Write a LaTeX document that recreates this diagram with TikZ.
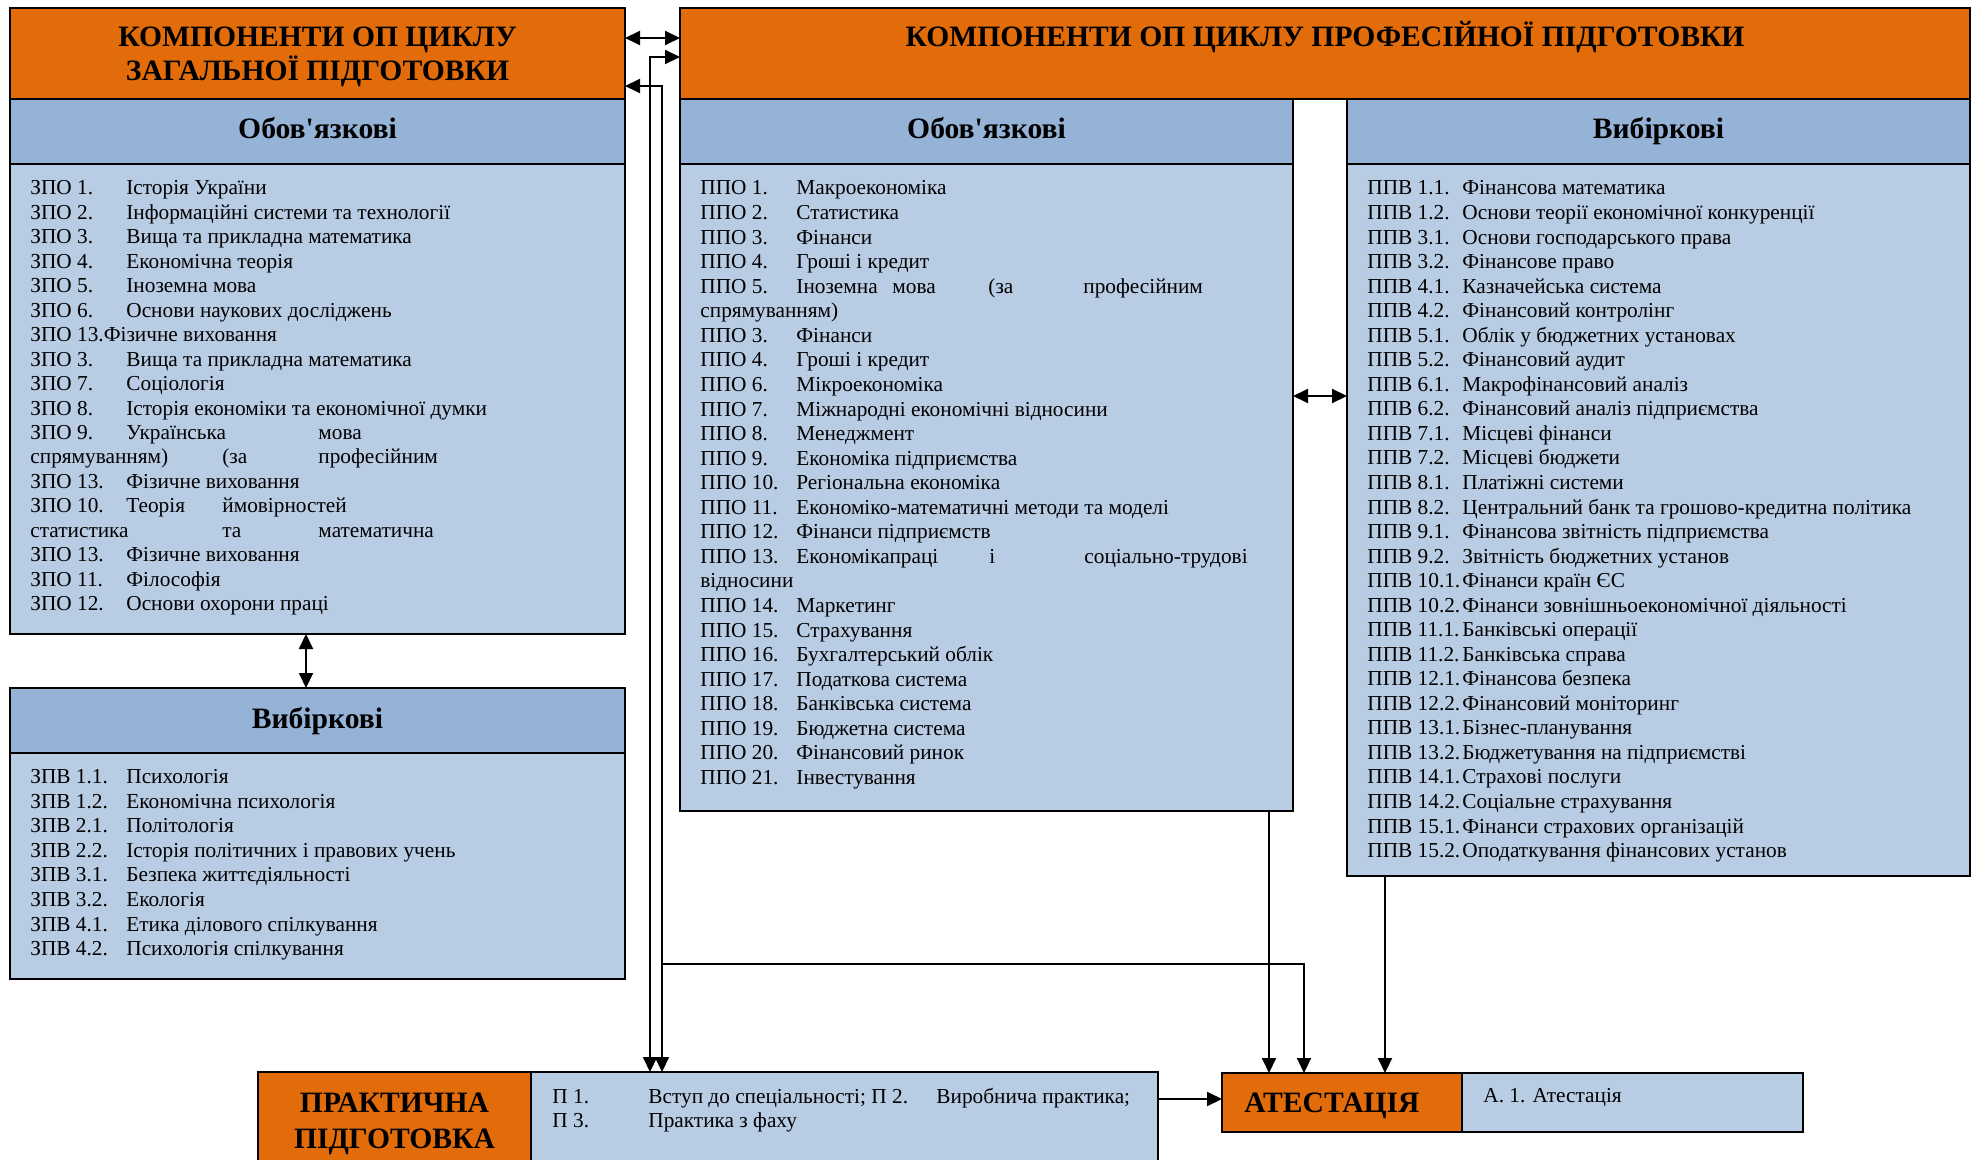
\documentclass[tikz,border=0pt]{standalone}
\usepackage{fontspec}
\setmainfont{Liberation Serif}[Ligatures=TeXOff]
\usetikzlibrary{arrows.meta}
\definecolor{orng}{HTML}{E36C0A}
\definecolor{hdr}{HTML}{95B3D7}
\definecolor{cnt}{HTML}{B8CCE4}
\newcommand\mkbox[6]{\node[bx,#2,minimum width={(#5-(#3))*0.5pt},minimum height={(#6-(#4))*0.5pt}] (#1) at (#3,#4) {};}
\begin{document}
\begin{tikzpicture}[x=0.5pt,y=-0.5pt,
  bx/.style={draw=black, line width=1pt, inner sep=0pt, outer sep=0pt, anchor=north west},
  ttl/.style={anchor=base, inner sep=0pt, font=\fontsize{14.8}{17}\selectfont\bfseries},
  txt/.style={anchor=base west, inner sep=0pt, font=\fontsize{10.65}{12.6}\selectfont},
  arr/.style={line width=1pt, -{Triangle[length=7.5pt,width=7pt]}},
  darr/.style={line width=1pt, {Triangle[length=7.5pt,width=7pt]}-{Triangle[length=7.5pt,width=7pt]}}]
\useasboundingbox (0,0) rectangle (1975,1160);
% boxes
\mkbox{gen}{fill=orng}{10}{8}{625}{99}
\mkbox{genh}{fill=hdr}{10}{99}{625}{164}
\mkbox{genc}{fill=cnt}{10}{164}{625}{634}
\mkbox{vybh}{fill=hdr}{10}{688}{625}{753}
\mkbox{vybc}{fill=cnt}{10}{753}{625}{979}
\mkbox{prof}{fill=orng}{680}{8}{1970}{99}
\mkbox{oblh}{fill=hdr}{680}{99}{1293}{164}
\mkbox{oblc}{fill=cnt}{680}{164}{1293}{811}
\mkbox{ppvh}{fill=hdr}{1347}{99}{1970}{164}
\mkbox{ppvc}{fill=cnt}{1347}{164}{1970}{876}
\mkbox{prak}{fill=orng}{258}{1072}{531}{1180}
\mkbox{prakc}{fill=cnt}{531}{1072}{1158}{1180}
\mkbox{att}{fill=orng}{1222}{1073}{1462}{1132}
\mkbox{attc}{fill=cnt}{1462}{1073}{1803}{1132}
% titles
\node[ttl] (t1) at (317.5,47) {КОМПОНЕНТИ ОП ЦИКЛУ};
\node[ttl] (t2) at (317.5,81) {ЗАГАЛЬНОЇ ПІДГОТОВКИ};
\node[ttl] (t3) at (1325,47) {КОМПОНЕНТИ ОП ЦИКЛУ ПРОФЕСІЙНОЇ ПІДГОТОВКИ};
\node[ttl] (h1) at (317.5,139) {Обов'язкові};
\node[ttl] (h2) at (986.5,139) {Обов'язкові};
\node[ttl] (h3) at (1658.5,139) {Вибіркові};
\node[ttl] (h4) at (317.5,728) {Вибіркові};
\node[ttl] (p1) at (394.5,1112) {ПРАКТИЧНА};
\node[ttl] (p2) at (394.5,1148) {ПІДГОТОВКА};
\node[ttl] (a1) at (1332,1112) {АТЕСТАЦІЯ};
% general obligatory
\foreach \a/\b [count=\i from 0] in {
 ЗПО 1./Історія України,
 ЗПО 2./Інформаційні системи та технології,
 ЗПО 3./Вища та прикладна математика,
 ЗПО 4./Економічна теорія,
 ЗПО 5./Іноземна мова,
 ЗПО 6./Основи наукових досліджень,
 ЗПО 13.Фізичне виховання/{},
 ЗПО 3./Вища та прикладна математика,
 ЗПО 7./Соціологія,
 ЗПО 8./Історія економіки та економічної думки,
 ЗПО 9./Українська,
 спрямуванням)/{},
 ЗПО 13./Фізичне виховання,
 ЗПО 10./Теорія,
 статистика/{},
 ЗПО 13./Фізичне виховання,
 ЗПО 11./Філософія,
 ЗПО 12./Основи охорони праці}
 {\node[txt] (ga\i) at (30,195+24.45*\i) {\a};
  \node[txt] (gb\i) at (126,195+24.45*\i) {\b};}
\node[txt] (gx1) at (318,{195+24.45*10}) {мова};
\node[txt] (gx2) at (222,{195+24.45*11}) {(за};
\node[txt] (gx3) at (318,{195+24.45*11}) {професійним};
\node[txt] (gx4) at (222,{195+24.45*13}) {ймовірностей};
\node[txt] (gx5) at (222,{195+24.45*14}) {та};
\node[txt] (gx6) at (318,{195+24.45*14}) {математична};
% general elective
\foreach \a/\b [count=\i from 0] in {
 ЗПВ 1.1./Психологія,
 ЗПВ 1.2./Економічна психологія,
 ЗПВ 2.1./Політологія,
 ЗПВ 2.2./Історія політичних і правових учень,
 ЗПВ 3.1./Безпека життєдіяльності,
 ЗПВ 3.2./Екологія,
 ЗПВ 4.1./Етика ділового спілкування,
 ЗПВ 4.2./Психологія спілкування}
 {\node[txt] (va\i) at (30,783.5+24.6*\i) {\a};
  \node[txt] (vb\i) at (126,783.5+24.6*\i) {\b};}
% professional obligatory
\foreach \a/\b [count=\i from 0] in {
 ППО 1./Макроекономіка,
 ППО 2./Статистика,
 ППО 3./Фінанси,
 ППО 4./Гроші і кредит,
 ППО 5./Іноземна,
 спрямуванням)/{},
 ППО 3./Фінанси,
 ППО 4./Гроші і кредит,
 ППО 6./Мікроекономіка,
 ППО 7./Міжнародні економічні відносини,
 ППО 8./Менеджмент,
 ППО 9./Економіка підприємства,
 ППО 10./Регіональна економіка,
 ППО 11./Економіко-математичні методи та моделі,
 ППО 12./Фінанси підприємств,
 ППО 13./Економікапраці,
 відносини/{},
 ППО 14./Маркетинг,
 ППО 15./Страхування,
 ППО 16./Бухгалтерський облік,
 ППО 17./Податкова система,
 ППО 18./Банківська система,
 ППО 19./Бюджетна система,
 ППО 20./Фінансовий ринок,
 ППО 21./Інвестування}
 {\node[txt] (ma\i) at (700,195+24.56*\i) {\a};
  \node[txt] (mb\i) at (796,195+24.56*\i) {\b};}
\node[txt] (mx1) at (892,{195+24.56*4}) {мова};
\node[txt] (mx2) at (988,{195+24.56*4}) {(за};
\node[txt] (mx3) at (1083,{195+24.56*4}) {професійним};
\node[txt] (mx4) at (989,{195+24.56*15}) {і};
\node[txt] (mx5) at (1084,{195+24.56*15}) {соціально-трудові};
% professional elective
\foreach \a/\b [count=\i from 0] in {
 ППВ 1.1./Фінансова математика,
 ППВ 1.2./Основи теорії економічної конкуренції,
 ППВ 3.1./Основи господарського права,
 ППВ 3.2./Фінансове право,
 ППВ 4.1./Казначейська система,
 ППВ 4.2./Фінансовий контролінг,
 ППВ 5.1./Облік у бюджетних установах,
 ППВ 5.2./Фінансовий аудит,
 ППВ 6.1./Макрофінансовий аналіз,
 ППВ 6.2./Фінансовий аналіз підприємства,
 ППВ 7.1./Місцеві фінанси,
 ППВ 7.2./Місцеві бюджети,
 ППВ 8.1./Платіжні системи,
 ППВ 8.2./Центральний банк та грошово-кредитна політика,
 ППВ 9.1./Фінансова звітність підприємства,
 ППВ 9.2./Звітність бюджетних установ,
 ППВ 10.1./Фінанси країн ЄС,
 ППВ 10.2./Фінанси зовнішньоекономічної діяльності,
 ППВ 11.1./Банківські операції,
 ППВ 11.2./Банківська справа,
 ППВ 12.1./Фінансова безпека,
 ППВ 12.2./Фінансовий моніторинг,
 ППВ 13.1./Бізнес-планування,
 ППВ 13.2./Бюджетування на підприємстві,
 ППВ 14.1./Страхові послуги,
 ППВ 14.2./Соціальне страхування,
 ППВ 15.1./Фінанси страхових організацій,
 ППВ 15.2./Оподаткування фінансових установ}
 {\node[txt] (ra\i) at (1367,195+24.54*\i) {\a};
  \node[txt] (rb\i) at (1462,195+24.54*\i) {\b};}
% practice and attestation texts
\node[txt] (q1) at (552,1103) {П 1.};
\node[txt] (q2) at (648,1103) {Вступ до спеціальності; П 2.};
\node[txt] (q3) at (936,1103) {Виробнича практика;};
\node[txt] (q4) at (552,1127) {П 3.};
\node[txt] (q5) at (648,1127) {Практика з фаху};
\node[txt] (q6) at (1483,1102) {А. 1. Атестація};
% connectors
\coordinate (br) at (662,964);
\draw[darr] (gen.east |- 0,38) -- (prof.west |- 0,38);
\draw[darr] (prof.west |- 0,57) -- (650,57) -- (prakc.north -| 650,0);
\draw[darr] (gen.east |- 0,86) -- (662,86) -- (prakc.north -| 662,0);
\draw[arr] (br) -- (1304,964) -- (att.north -| 1304,0);
\draw[arr] (oblc.south -| 1269,0) -- (att.north -| 1269,0);
\draw[arr] (ppvc.south -| 1385,0) -- (att.north -| 1385,0);
\draw[darr] (genc.south -| 306,0) -- (vybh.north -| 306,0);
\draw[darr] (oblc.east |- 0,396) -- (ppvc.west |- 0,396);
\draw[arr] (prakc.east |- 0,1099) -- (att.west |- 0,1099);
\end{tikzpicture}
\end{document}
